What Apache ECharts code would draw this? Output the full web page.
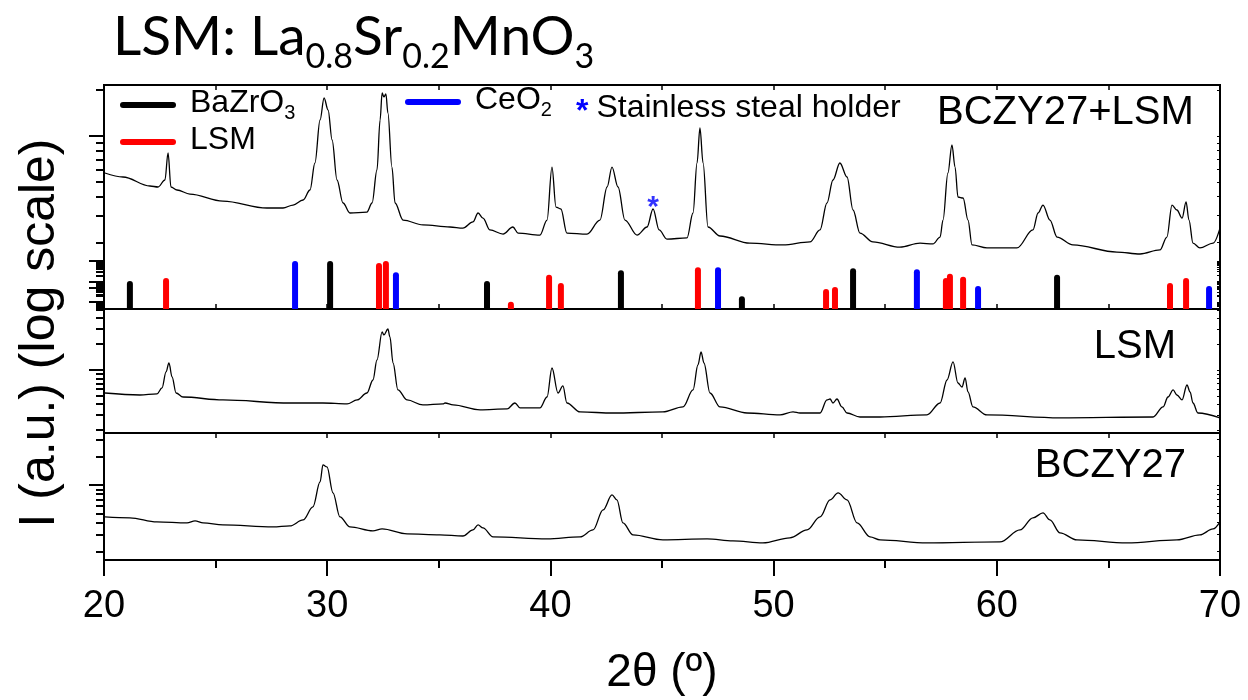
<!DOCTYPE html>
<html>
<head>
<meta charset="utf-8">
<script src="https://cdn.jsdelivr.net/npm/echarts@6/dist/echarts.min.js"></script>
<style>
  html, body { margin: 0; padding: 0; background: #fff; }
  #chart { width: 1248px; height: 700px; }
</style>
</head>
<body>
<div id="chart"></div>
<script>
// ---- 2θ range ----
const X_MIN = 20, X_MAX = 70;

// ---- measured scans: [2θ (deg), intensity (a.u.)] ----
const bczyLsmScan = [
  [20.04,5710],[20.85,5375],[22.06,4690],[22.42,4620],[22.73,5135],[22.87,7730],[23.0,4620],[23.27,4415],
  [23.85,4150],[25.33,3735],[27.3,3360],[28.02,3360],[28.47,3515],[28.92,3795],[29.23,4415],[29.45,6645],
  [29.68,12740],[29.86,17780],[30.04,14830],[30.22,9410],[30.44,5135],[30.71,3625],[31.02,3115],[31.78,3160],
  [32.01,3625],[32.23,5975],[32.37,12740],[32.46,19180],[32.54,18060],[32.63,18890],[32.72,14170],[32.9,6250],
  [33.04,3625],[33.4,2800],[34.29,2600],[35.5,2520],[36.08,2480],[36.53,2720],[36.76,3115],[36.98,2885],
  [37.29,2410],[37.88,2265],[38.32,2520],[38.55,2300],[39.53,2230],[39.85,2800],[40.07,6250],[40.25,3410],
  [40.47,3310],[40.74,2300],[41.64,2265],[42.22,2800],[42.54,4620],[42.76,6250],[43.03,4620],[43.34,2800],
  [43.88,2230],[44.33,2520],[44.6,3310],[44.87,2410],[45.22,2100],[46.12,2135],[46.39,3115],[46.57,6645],
  [46.7,11290],[46.84,6645],[47.06,2520],[47.6,2200],[48.94,1975],[50.42,1920],[51.63,2010],[52.08,2410],
  [52.39,3625],[52.66,5135],[52.97,6645],[53.29,5375],[53.56,3260],[53.87,2300],[54.45,2010],[55.66,1860],
  [56.56,1975],[57.14,1950],[57.46,2165],[57.59,2800],[57.81,5710],[57.99,8725],[58.13,6250],[58.26,3970],
  [58.49,3910],[58.71,2800],[58.89,1920],[59.56,1835],[60.9,1835],[61.62,2410],[61.85,3115],[62.07,3515],
  [62.38,2800],[62.7,2165],[63.41,1920],[65.38,1725],[66.42,1675],[67.31,1780],[67.62,2165],[67.85,3515],
  [68.07,3260],[68.3,2885],[68.48,3680],[68.61,2800],[68.79,1975],[69.1,1835],[69.69,1975],[70.0,2480]
];

const lsmScan = [
  [20.04,540],[21.61,512],[22.37,526],[22.6,618],[22.78,948],[22.91,1206],[23.05,829],[23.23,540],
  [23.54,485],[25.33,448],[28.33,413],[29.81,413],[30.89,403],[31.34,448],[31.78,540],[32.05,765],
  [32.23,1307],[32.46,2767],[32.54,2553],[32.72,2997],[32.81,2419],[32.95,1206],[33.17,586],[33.58,448],
  [34.29,392],[35.19,403],[35.28,413],[35.64,392],[36.85,343],[38.06,352],[38.41,413],[38.64,362],
  [39.53,362],[39.85,485],[40.07,1055],[40.34,540],[40.56,652],[40.74,413],[41.33,325],[42.8,316],
  [45.04,325],[45.94,372],[46.39,586],[46.61,1143],[46.75,1619],[46.88,1206],[47.15,540],[47.6,372],
  [48.81,316],[50.29,300],[50.87,325],[51.18,316],[52.08,316],[52.39,448],[52.53,460],[52.66,413],
  [52.84,460],[53.06,372],[53.29,316],[53.87,284],[54.77,284],[56.87,300],[57.46,413],[57.77,765],
  [58.04,1239],[58.26,706],[58.44,634],[58.58,807],[58.71,555],[58.93,372],[59.56,300],[62.83,277],
  [67.0,284],[67.45,372],[67.67,485],[67.9,586],[68.07,512],[68.3,448],[68.52,669],[68.66,555],
  [68.79,413],[69.01,316],[70.0,277]
];

const bczyScan = [
  [20.04,460],[21.16,450],[22.37,408],[23.72,398],[24.08,418],[24.44,398],[25.33,379],[27.57,361],
  [28.33,370],[28.92,428],[29.36,587],[29.68,1075],[29.81,1624],[29.99,1547],[30.26,824],[30.57,460],
  [31.02,361],[32.05,328],[32.46,344],[33.58,305],[35.05,298],[36.08,290],[36.53,336],[36.76,379],
  [36.98,353],[37.43,284],[39.85,270],[41.33,284],[41.91,336],[42.36,546],[42.76,785],[42.98,695],
  [43.25,398],[43.7,298],[45.04,264],[47.02,270],[48.18,257],[49.52,245],[50.73,277],[51.5,336],
  [52.08,460],[52.53,695],[52.89,824],[53.29,695],[53.74,398],[54.32,284],[54.77,264],[56.87,245],
  [60.14,251],[61.04,336],[61.62,450],[62.07,508],[62.38,428],[62.83,313],[63.59,264],[65.83,245],
  [68.07,264],[69.1,298],[69.69,344],[70.0,408]
];

// ---- reference patterns: [2θ (deg), relative intensity] ----
const bazro3Lines = [[21.16,55],[30.13,94],[37.16,55],[43.16,76],[48.58,25],[53.56,80],[62.70,67]];
const lsmLines = [[22.78,61],[32.32,90],[32.63,94],[38.23,14],[39.94,67],[40.47,51],[46.61,82],
                  [52.35,39],[52.75,43],[57.72,61],[57.90,69],[58.49,63],[67.76,51],[68.48,61]];
const ceo2Lines = [[28.56,94],[33.08,72],[47.51,82],[56.42,78],[59.16,45],[69.51,45]];

// peak from the sample holder, flagged with an asterisk
const holderPeak = [[44.6,3385]];

// ---- log-axis decades used for the tick marks of each panel ----
const topDecades = [1000, 10000];
const stickDecades = [10, 100, 1000];
const lsmDecades = [1000];
const bczyDecades = [1000];

function minorValues(min, max) {
  const out = [];
  for (let d = 1; d <= 1e6; d *= 10) {
    for (let k = 2; k <= 9; k++) {
      const v = k * d;
      if (v >= min && v <= max) out.push(v);
    }
  }
  return out;
}

const BLACK = '#000000', RED = '#ff0000', BLUE = '#0000ff';
const SANS = 'Liberation Sans, Arial, sans-serif';

function panelYAxes(grid, min, max, majors) {
  const minors = minorValues(min, max);
  const base = {
    type: 'log', gridIndex: grid, min: min, max: max, logBase: 10,
    axisLine: { show: false }, axisLabel: { show: false }, splitLine: { show: false }
  };
  return [
    Object.assign({}, base, { position: 'left',
      axisTick: { show: true, inside: false, length: 15, customValues: majors, lineStyle: { color: BLACK, width: 2 } } }),
    Object.assign({}, base, { position: 'left',
      axisTick: { show: true, inside: false, length: 8, customValues: minors, lineStyle: { color: BLACK, width: 2 } } }),
    Object.assign({}, base, { position: 'right',
      axisTick: { show: true, inside: true, length: 3, customValues: majors.concat(minors), lineStyle: { color: BLACK, width: 1 } } })
  ];
}

function innerXAxis(grid, position) {
  return {
    type: 'value', gridIndex: grid, min: X_MIN, max: X_MAX, interval: 5, position: position,
    axisLine: { show: false }, axisLabel: { show: false }, splitLine: { show: false },
    axisTick: { show: true, inside: true, length: 5, lineStyle: { color: BLACK, width: 1.5 } }
  };
}

const gridBox = { left: 104, right: 28, show: true, borderColor: BLACK, borderWidth: 2,
                  backgroundColor: 'transparent', outerBoundsMode: 'none', containLabel: false };

const xAxes = [
  innerXAxis(0, 'bottom'),
  innerXAxis(0, 'top'),
  { type: 'value', gridIndex: 1, min: X_MIN, max: X_MAX, show: false },
  Object.assign(innerXAxis(2, 'bottom'), { axisTick: { show: false } }),
  {
    type: 'value', gridIndex: 3, min: X_MIN, max: X_MAX, interval: 10, position: 'bottom',
    axisLine: { show: true, lineStyle: { color: BLACK, width: 2 } },
    axisTick: { show: true, inside: false, length: 16, lineStyle: { color: BLACK, width: 2 } },
    minorTick: { show: true, splitNumber: 2, length: 8, lineStyle: { color: BLACK, width: 2 } },
    axisLabel: { show: true, margin: 28, color: BLACK, fontFamily: SANS, fontSize: 38 },
    splitLine: { show: false }, minorSplitLine: { show: false },
    name: '2θ (º)', nameLocation: 'middle', nameGap: 90,
    nameTextStyle: { color: BLACK, fontFamily: SANS, fontSize: 46 }
  },
  innerXAxis(3, 'top')
];

const yAxes = [].concat(
  panelYAxes(0, 728, 21650, topDecades),
  [{ type: 'value', gridIndex: 1, min: 0, max: 100, show: false }],
  panelYAxes(1, 4.56, 1400, stickDecades),
  panelYAxes(2, 185, 5117, lsmDecades),
  panelYAxes(3, 162, 3524, bczyDecades)
);

function scanSeries(name, data, xi, yi) {
  return {
    name: name, type: 'line', data: data, xAxisIndex: xi, yAxisIndex: yi,
    showSymbol: false, symbol: 'none', smooth: 0.35, smoothMonotone: 'x',
    lineStyle: { color: BLACK, width: 1.3 }, silent: true, z: 3
  };
}

function stickSeries(name, data, color) {
  return {
    name: name, type: 'bar', data: data, xAxisIndex: 2, yAxisIndex: 3,
    barWidth: 6, barGap: '-100%', itemStyle: { color: color, borderRadius: [3, 3, 0, 0] },
    silent: true, z: 4
  };
}

const pillIcon = 'path://M3,0 L53,0 A3,3 0 0 1 53,6 L3,6 A3,3 0 0 1 3,0 Z';
const legendText = {
  color: BLACK, fontFamily: SANS,
  rich: {
    t: { fontFamily: SANS, fontSize: 32, lineHeight: 36, verticalAlign: 'top', color: BLACK, padding: [0, 0, 0, 9] },
    s: { fontFamily: SANS, fontSize: 20, lineHeight: 10, verticalAlign: 'bottom', color: BLACK }
  }
};
function legendLabel(name) {
  if (name === 'BaZrO3') return '{t|BaZrO}{s|3}';
  if (name === 'CeO2') return '{t|CeO}{s|2}';
  return '{t|' + name + '}';
}

const chart = echarts.init(document.getElementById('chart'), null, { renderer: 'canvas' });

chart.setOption({
  animation: false,
  backgroundColor: '#ffffff',
  title: {
    left: 113, top: 10, padding: 0,
    text: '{m|LSM: La}{s|0.8}{m|Sr}{s|0.2}{m|MnO}{s|3}',
    textStyle: {
      fontWeight: 'normal',
      rich: {
        m: { fontFamily: 'Lato', fontWeight: 'normal', fontSize: 55, lineHeight: 64, verticalAlign: 'top', color: BLACK },
        s: { fontFamily: 'Lato', fontWeight: 'normal', fontSize: 34, lineHeight: 31, verticalAlign: 'bottom', color: BLACK }
      }
    }
  },
  legend: [
    {
      data: ['BaZrO3', 'LSM'], left: 120, top: 87, padding: 0, orient: 'vertical',
      itemWidth: 56, itemHeight: 6, itemGap: 1, icon: pillIcon, selectedMode: false,
      formatter: legendLabel, textStyle: legendText
    },
    {
      data: ['CeO2'], left: 405, top: 84, padding: 0, orient: 'vertical',
      itemWidth: 56, itemHeight: 6, itemGap: 1, icon: pillIcon, selectedMode: false,
      formatter: legendLabel, textStyle: legendText
    }
  ],
  grid: [
    Object.assign({}, gridBox, { top: 85, height: 224 }),
    Object.assign({}, gridBox, { top: 258, height: 51, show: false }),
    Object.assign({}, gridBox, { top: 309, height: 124 }),
    Object.assign({}, gridBox, { top: 433, height: 127 })
  ],
  xAxis: xAxes,
  yAxis: yAxes,
  graphic: [
    { type: 'text', x: 40, y: 333, rotation: Math.PI / 2, silent: true,
      style: { text: 'I (a.u.) (log scale)', fill: BLACK, font: '50px ' + SANS, align: 'center', verticalAlign: 'middle' } },
    { type: 'text', x: 937, y: 113, silent: true,
      style: { text: 'BCZY27+LSM', fill: BLACK, font: '40px ' + SANS, align: 'left', verticalAlign: 'middle' } },
    { type: 'text', x: 1176, y: 347, silent: true,
      style: { text: 'LSM', fill: BLACK, font: '40px ' + SANS, align: 'right', verticalAlign: 'middle' } },
    { type: 'text', x: 1186, y: 466, silent: true,
      style: { text: 'BCZY27', fill: BLACK, font: '40px ' + SANS, align: 'right', verticalAlign: 'middle' } },
    { type: 'text', x: 576, y: 92, silent: true,
      style: {
        text: '{a|*}{t|Stainless steal holder}', verticalAlign: 'top',
        rich: {
          a: { fontFamily: SANS, fontSize: 32, fontWeight: 'bold', lineHeight: 24, verticalAlign: 'bottom', fill: BLUE, color: BLUE },
          t: { fontFamily: SANS, fontSize: 32, lineHeight: 36, verticalAlign: 'top', fill: BLACK, color: BLACK, padding: [0, 0, 0, 8] }
        }
      } }
  ],
  series: [
    scanSeries('BCZY27+LSM scan', bczyLsmScan, 0, 0),
    stickSeries('BaZrO3', bazro3Lines, BLACK),
    stickSeries('LSM', lsmLines, RED),
    stickSeries('CeO2', ceo2Lines, BLUE),
    scanSeries('LSM scan', lsmScan, 3, 7),
    scanSeries('BCZY27 scan', bczyScan, 4, 10),
    {
      name: 'holder', type: 'scatter', data: holderPeak, xAxisIndex: 0, yAxisIndex: 0,
      symbolSize: 1, itemStyle: { color: 'rgba(0,0,0,0)' }, silent: true, z: 5,
      label: { show: true, position: 'inside', formatter: '*', color: BLUE,
               fontFamily: SANS, fontSize: 30, fontWeight: 'bold' }
    }
  ]
});
</script>
</body>
</html>
